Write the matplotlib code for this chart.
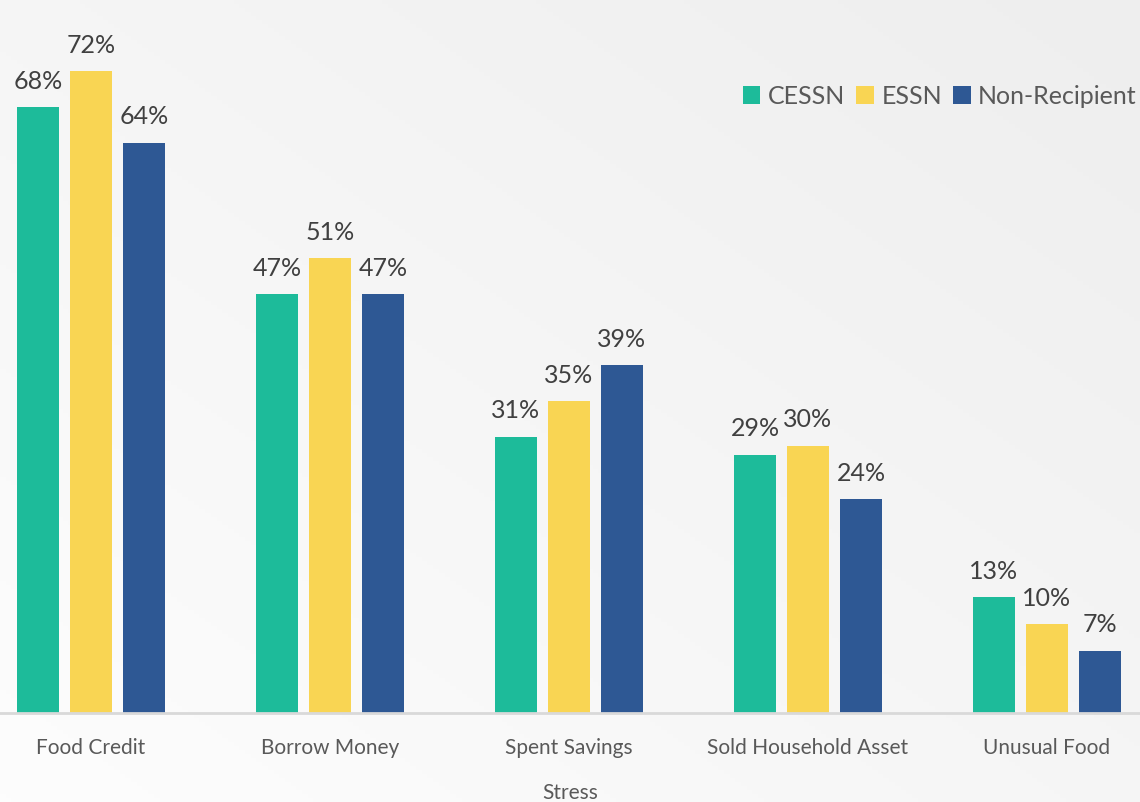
import matplotlib.pyplot as plt
import numpy as np

categories = ["Food Credit", "Borrow Money", "Spent Savings", "Sold Household Asset", "Unusual Food"]
cessn = [68, 47, 31, 29, 13]
essn = [72, 51, 35, 30, 10]
non_recipient = [64, 47, 39, 24, 7]
series_names = ["CESSN", "ESSN", "Non-Recipient"]
colors = ["#1DBB9A", "#F9D553", "#2E5894"]

plt.rcParams['font.family'] = ['Lato', 'DejaVu Sans']

fig = plt.figure(figsize=(11.4, 8.02), dpi=100)

# soft diagonal background: near white at bottom left, light grey at top right
bg = fig.add_axes([0, 0, 1, 1], zorder=0)
yy, xx = np.mgrid[0:1:200j, 0:1:200j]
shade = 0.5 * xx + 0.5 * yy
bg.imshow(shade, cmap=plt.matplotlib.colors.LinearSegmentedColormap.from_list(
    "bg", ["#FDFDFD", "#EEEEEE"]), origin="lower", extent=[0, 1, 0, 1], aspect="auto")
bg.axis("off")

ax = fig.add_axes([0, 89 / 802, 1, 713 / 802], zorder=1)
ax.patch.set_alpha(0)

x = np.arange(len(categories))
width = 0.1757
step = 0.2218
for i, (vals, name, c) in enumerate(zip([cessn, essn, non_recipient], series_names, colors)):
    pos = x + (i - 1) * step
    bars = ax.bar(pos, vals, width, color=c, label=name)
    for b, v in zip(bars, vals):
        ax.text(b.get_x() + b.get_width() / 2, v + 1.6, f"{v}%", ha="center", va="bottom",
                fontsize=18, color="#404040")

ax.set_xlim(-91 / 239, 1049 / 239)
ax.set_ylim(0, 80)
ax.set_yticks([])
ax.set_xticks(x)
ax.set_xticklabels(categories, fontsize=15, color="#595959")
ax.tick_params(axis="x", length=0, pad=18)
for s in ["top", "right", "left"]:
    ax.spines[s].set_visible(False)
ax.spines["bottom"].set_color("#D9D9D9")
ax.spines["bottom"].set_linewidth(2)
ax.set_xlabel("Stress", fontsize=15, color="#595959", labelpad=18)

leg = ax.legend(loc="upper right", bbox_to_anchor=(1.006, 0.895), ncol=3, frameon=False,
                fontsize=18, handlelength=0.7, handleheight=0.7, handletextpad=0.3,
                columnspacing=0.45, borderaxespad=0)
for t in leg.get_texts():
    t.set_color("#595959")

fig.savefig("out.png", dpi=100)
